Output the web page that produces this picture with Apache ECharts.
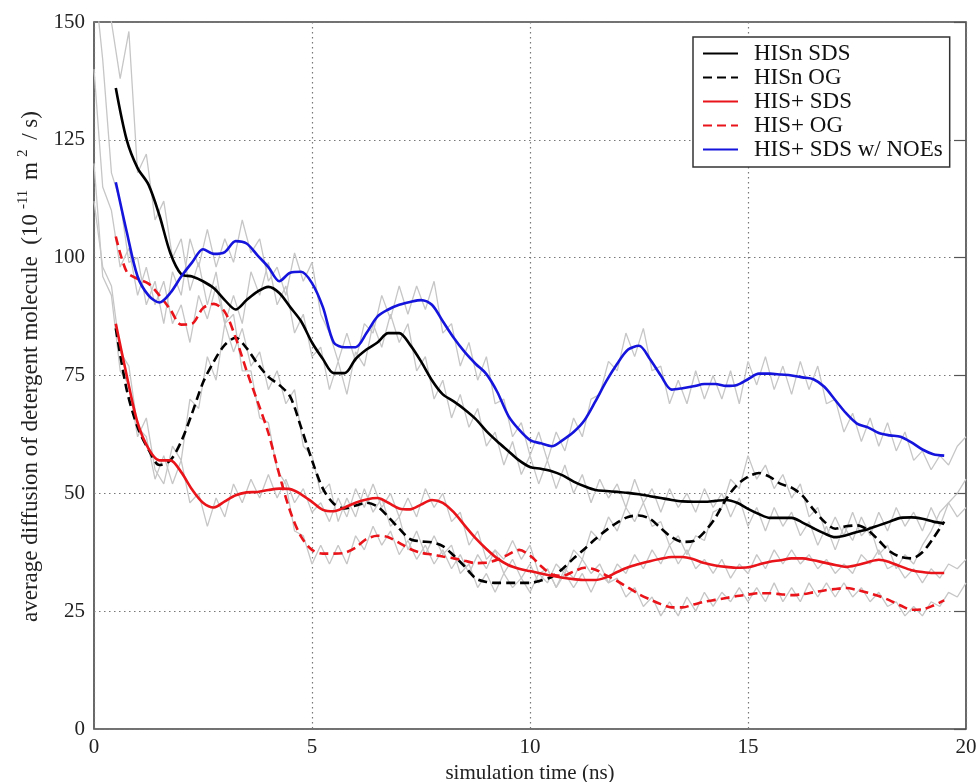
<!DOCTYPE html>
<html>
<head>
<meta charset="utf-8">
<script src="https://cdn.jsdelivr.net/npm/echarts@6/dist/echarts.min.js"></script>
<style>
  html, body { margin: 0; padding: 0; background: #fff; }
  #chart { width: 980px; height: 782px; }
</style>
</head>
<body>
<div id="chart"></div>
<script>
// Running averages (1 ns window), sampled every 0.25 ns from 0.5 to 19.5 ns
const seriesNames = ['HISn SDS', 'HISn OG', 'HIS+ SDS', 'HIS+ OG', 'HIS+ SDS w/ NOEs'];

const hisnSds = [136, 125, 119, 115.5, 109, 101, 96.5, 96, 95, 93.5, 91, 89, 91, 92.8, 93.8, 92.5, 89.5, 86.5, 82, 78.5,
  75.5, 75.5, 78.5, 80.5, 82, 84, 84, 81.5, 78, 74, 71, 69.5, 67.8, 65.8, 63.2, 61, 59, 57, 55.6, 55.2,
  54.7, 53.8, 52.5, 51.5, 50.7, 50.5, 50.3, 50.1, 49.8, 49.4, 49, 48.6, 48.3, 48.2, 48.2, 48.4, 48.6, 48, 46.7, 45.6,
  44.8, 44.8, 44.8, 43.8, 42.6, 41.5, 40.7, 41.1, 41.8, 42.4, 43.2, 44, 44.8, 44.9, 44.6, 44, 43.6];

const hisnOg = [85, 72, 64, 59.3, 56, 57, 61, 67, 73.5, 78, 81.5, 83, 80.8, 77.5, 74.7, 73, 70.5, 64, 57, 51,
  47.8, 46.8, 47.4, 48, 47.2, 45, 42.5, 40.3, 39.8, 39.6, 38.8, 36.8, 34.5, 32, 31.2, 31, 31, 31, 31, 31.5,
  32.3, 34, 36.2, 38.2, 40.3, 42.2, 43.8, 45, 45.3, 44.6, 42.6, 40.7, 39.7, 39.9, 41.8, 44.8, 48.8, 51.8, 53.5, 54.3,
  53.5, 52, 51.2, 49.5, 46.6, 44, 42.5, 43, 43.2, 42.2, 40, 37.7, 36.5, 36.2, 37.5, 40.5, 44];

const hisPSds = [86, 75, 65, 59.5, 57, 57, 54.5, 50.8, 48, 47, 48.3, 49.6, 50.2, 50.3, 50.7, 51, 50.9, 49.8, 48.2, 46.5,
  46.2, 47, 48, 48.7, 49, 48, 46.8, 46.6, 47.6, 48.6, 48, 46, 43.2, 40.5, 38.2, 36.2, 34.8, 34, 33.5, 33,
  32.5, 32.1, 31.8, 31.6, 31.6, 32.2, 33.3, 34.3, 35, 35.6, 36.1, 36.5, 36.5, 36, 35.2, 34.7, 34.4, 34.2, 34.3, 34.9,
  35.5, 35.8, 36.2, 36.2, 35.8, 35.3, 34.8, 34.4, 34.8, 35.4, 35.9, 35.4, 34.5, 33.7, 33.3, 33.1, 33.1];

const hisPOg = [104.5, 97, 95.5, 94.5, 92, 89, 85.8, 86, 89.3, 90.2, 88.5, 83, 76, 69.5, 62.8, 54, 46.2, 40.8, 38, 37.2,
  37.2, 37.4, 38.5, 40.3, 41, 40.7, 39.5, 38.2, 37.4, 37, 36.6, 36.2, 35.7, 35.2, 35.3, 35.9, 37, 38, 36.8, 34.6,
  32.8, 32.5, 33.4, 34.2, 33.8, 32.6, 31.4, 30, 28.6, 27.5, 26.5, 25.8, 25.8, 26.4, 27, 27.4, 27.8, 28.2, 28.5, 28.8,
  28.8, 28.6, 28.4, 28.6, 29, 29.4, 29.7, 29.9, 29.5, 28.9, 28.2, 27.3, 26.2, 25.3, 25.4, 26.2, 27.3];

const hisPSdsNoe = [116, 105.5, 96, 92, 90.5, 92.5, 96, 99, 101.8, 100.8, 101.2, 103.5, 103, 100.5, 98, 95, 96.8, 97, 94.6, 89.5,
  82, 81, 81, 84, 87.5, 89, 90, 90.6, 91, 90, 86.5, 83, 80, 77.5, 75.3, 71.5, 66.5, 63.5, 61.3, 60.6,
  60, 61.3, 63, 65.5, 69.5, 73.8, 77.5, 80.5, 81.3, 78.5, 75, 72, 72.3, 72.7, 73.2, 73.2, 72.8, 73, 74.2, 75.4,
  75.4, 75.2, 75, 74.6, 74.2, 72.6, 69.8, 67, 64.8, 64, 62.8, 62.3, 62, 60.8, 59.3, 58.3, 58];

// Instantaneous values, sampled every 0.2 ns from 0 to 20 ns
const rawHisnSds = [178, 162, 150, 138, 148, 118, 122, 108, 112, 100, 104, 93, 99, 90, 97, 86, 92, 86, 97, 92,
  99, 90, 94, 84, 88, 79, 81, 72, 78, 71, 80, 77, 86, 81, 88, 82, 86, 76, 79, 70,
  74, 66, 71, 64, 68, 60, 63, 56, 61, 54, 58, 52, 57, 51, 56, 50, 54, 48, 53, 49,
  52, 47, 53, 48, 51, 46, 51, 47, 50, 46, 51, 47, 50, 45, 49, 43, 47, 42, 47, 43,
  46, 41, 44, 39, 43, 38, 43, 40, 45, 41, 46, 42, 47, 43, 46, 42, 47, 43, 48, 45, 47];

const rawHisnOg = [120, 96, 92, 76, 73, 62, 66, 55, 52, 60, 57, 70, 68, 79, 74, 86, 80, 85, 77, 80,
  72, 76, 69, 72, 60, 58, 50, 52, 44, 49, 45, 51, 46, 49, 43, 45, 38, 42, 37, 41,
  37, 39, 33, 35, 30, 33, 29, 33, 30, 32, 29, 33, 31, 35, 33, 38, 36, 42, 40, 45,
  42, 47, 44, 48, 43, 44, 39, 41, 37, 41, 40, 46, 47, 53, 51, 58, 53, 56, 51, 54,
  49, 52, 45, 47, 41, 45, 41, 46, 41, 43, 37, 39, 34, 37, 35, 39, 42, 46, 48, 50, 53];

const rawHisPSds = [112, 98, 94, 80, 77, 64, 62, 53, 58, 52, 57, 48, 50, 43, 49, 45, 52, 48, 53, 49,
  54, 49, 53, 48, 51, 46, 48, 44, 49, 45, 51, 47, 52, 47, 50, 45, 49, 45, 51, 47,
  50, 44, 46, 39, 42, 36, 38, 33, 36, 32, 35, 31, 34, 30, 33, 30, 33, 29, 33, 31,
  35, 33, 37, 34, 38, 35, 39, 35, 38, 34, 36, 33, 36, 32, 35, 33, 37, 34, 38, 35,
  38, 35, 37, 34, 36, 33, 35, 33, 37, 35, 38, 34, 35, 32, 34, 31, 34, 32, 35, 34, 36];

const rawHisPOg = [140, 115, 110, 98, 102, 92, 98, 90, 95, 86, 90, 82, 92, 87, 94, 86, 88, 76, 76, 66,
  65, 55, 52, 42, 41, 35, 39, 35, 39, 35, 41, 38, 43, 39, 42, 37, 40, 36, 39, 35,
  38, 34, 37, 33, 37, 34, 38, 36, 40, 36, 39, 33, 34, 30, 34, 32, 36, 33, 35, 31,
  32, 28, 30, 26, 28, 24, 27, 24, 28, 25, 29, 26, 29, 27, 30, 27, 30, 27, 31, 27,
  30, 27, 31, 28, 31, 28, 31, 28, 30, 27, 29, 26, 27, 24, 26, 24, 27, 26, 29, 28, 31];

const rawHisPSdsNoe = [160, 142, 118, 112, 99, 100, 90, 95, 86, 97, 92, 104, 98, 106, 98, 104, 99, 108, 101, 104,
  95, 98, 92, 101, 95, 99, 88, 84, 78, 84, 78, 86, 84, 92, 87, 94, 88, 94, 89, 95,
  84, 86, 77, 82, 74, 79, 69, 70, 62, 65, 58, 63, 57, 63, 59, 66, 62, 70, 71, 78,
  76, 84, 79, 85, 76, 77, 69, 74, 69, 76, 70, 75, 70, 76, 69, 78, 73, 79, 72, 77,
  71, 78, 72, 77, 69, 70, 63, 67, 61, 66, 60, 65, 59, 63, 57, 59, 55, 58, 56, 60, 62];

const xTicks = { min: 0, max: 20, interval: 5 };
const yTicks = { min: 0, max: 150, interval: 25 };

// sampling instants of the two kinds of trace
const tAvg = [];
for (let i = 0; i < hisnSds.length; i++) tAvg.push(0.5 + i * 0.25);
const tRaw = [];
for (let i = 0; i < rawHisnSds.length; i++) tRaw.push(+(i * 0.2).toFixed(1));

const pair = (ts, vs) => vs.map((v, i) => [ts[i], v]);

const avgData = [hisnSds, hisnOg, hisPSds, hisPOg, hisPSdsNoe];
const rawData = [rawHisnSds, rawHisnOg, rawHisPSds, rawHisPOg, rawHisPSdsNoe];
const colors = ['#000000', '#000000', '#e8141a', '#e8141a', '#1414dc'];
const dashes = ['solid', [9, 5], 'solid', [9, 5], 'solid'];

const serif = 'Liberation Serif';
const gridLine = { color: '#777', type: [1.5, 3.5], width: 1.2 };

const series = [];
rawData.forEach((vals) => {
  series.push({
    type: 'line',
    data: pair(tRaw, vals),
    symbol: 'none',
    silent: true,
    z: 2,
    lineStyle: { color: '#c6c6c6', width: 1.3 }
  });
});
avgData.forEach((vals, k) => {
  series.push({
    type: 'line',
    name: seriesNames[k],
    data: pair(tAvg, vals),
    symbol: 'none',
    smooth: 0.3,
    z: 3,
    itemStyle: { color: colors[k] },
    lineStyle: { color: colors[k], width: 2.6, type: dashes[k] }
  });
});

const chart = echarts.init(document.getElementById('chart'), null, { renderer: 'canvas' });
chart.setOption({
  animation: false,
  backgroundColor: '#fff',
  grid: {
    left: 94, right: 14, top: 22, bottom: 53,
    outerBoundsMode: 'none',
    containLabel: false,
    show: true, borderColor: '#444', borderWidth: 1.6, backgroundColor: 'transparent'
  },
  legend: {
    data: seriesNames,
    orient: 'vertical',
    left: 693, top: 37,
    padding: [5, 7, 6, 9],
    itemGap: 1,
    itemWidth: 35, itemHeight: 12,
    backgroundColor: '#fff',
    borderColor: '#333', borderWidth: 1.5,
    itemStyle: { opacity: 0 },
    textStyle: { fontFamily: serif, fontSize: 23, color: '#111', lineHeight: 20, padding: [0, 0, 0, 11] }
  },
  xAxis: {
    type: 'value',
    min: xTicks.min, max: xTicks.max, interval: xTicks.interval,
    axisLine: { show: false },
    axisTick: { show: false },
    axisLabel: { fontFamily: serif, fontSize: 21, color: '#222', margin: 8 },
    splitLine: { show: true, lineStyle: gridLine },
    name: 'simulation time (ns)',
    nameLocation: 'middle',
    nameGap: 31,
    nameTextStyle: { fontFamily: serif, fontSize: 21, color: '#222' }
  },
  yAxis: [{
    type: 'value',
    min: yTicks.min, max: yTicks.max, interval: yTicks.interval,
    axisLine: { show: false },
    axisTick: { show: false },
    axisLabel: { fontFamily: serif, fontSize: 21, color: '#222', margin: 9 },
    splitLine: { show: true, lineStyle: gridLine },
    name: '{t|average diffusion of detergent molecule  (10}{s|-11}{t| m}{s|2}{t| / s)}',
    nameLocation: 'middle',
    nameGap: 50,
    nameTextStyle: {
      fontFamily: serif, fontSize: 23, color: '#222',
      padding: [0, 0, 0, 18],
      rich: {
        t: { fontFamily: serif, fontSize: 23, color: '#222', lineHeight: 27, verticalAlign: 'bottom' },
        s: { fontFamily: serif, fontSize: 15, color: '#222', lineHeight: 15, verticalAlign: 'top', padding: [0, 4, 0, 5] }
      }
    }
  }, {
    type: 'value',
    position: 'right',
    min: yTicks.min, max: yTicks.max, interval: yTicks.interval,
    axisLine: { show: false },
    axisLabel: { show: false },
    axisTick: { show: true, inside: true, length: 12, lineStyle: { color: '#555', width: 1.2 } },
    splitLine: { show: false }
  }],
  series: series
});
</script>
</body>
</html>
